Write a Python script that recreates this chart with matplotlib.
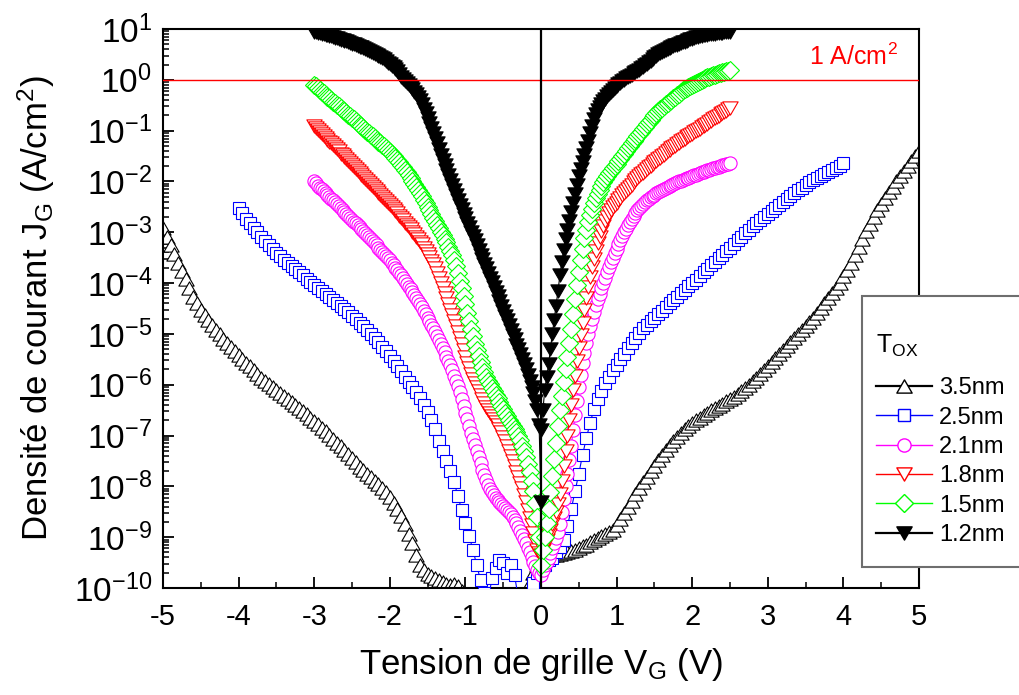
import numpy as np
import matplotlib
matplotlib.use("Agg")
import matplotlib.pyplot as plt
from matplotlib.lines import Line2D
from matplotlib.patches import Rectangle
from matplotlib.path import Path
from matplotlib.ticker import FixedLocator, FixedFormatter, LogLocator, NullFormatter, MultipleLocator

plt.rcParams['font.family'] = ['Liberation Sans', 'DejaVu Sans']
plt.rcParams['mathtext.fontset'] = 'custom'
plt.rcParams['mathtext.rm'] = 'Liberation Sans'
plt.rcParams['mathtext.it'] = 'Liberation Sans:italic'
plt.rcParams['mathtext.bf'] = 'Liberation Sans:bold'
plt.rcParams['mathtext.sf'] = 'Liberation Sans'

# ---------------- data (log10 of J_G in A/cm^2) ----------------
labels = ['3.5nm', '2.5nm', '2.1nm', '1.8nm', '1.5nm', '1.2nm']

# 3.5 nm : V = -5.00 .. -0.05 (step 0.05) then 0.00 .. 5.00
logJ_35_neg = [
    -2.92, -3.09, -3.26, -3.43, -3.60, -3.76, -3.92, -4.10, -4.27, -4.40,
    -4.52, -4.63, -4.73, -4.83, -4.92, -5.01, -5.10, -5.18, -5.26, -5.34,
    -5.42, -5.49, -5.57, -5.64, -5.71, -5.79, -5.86, -5.92, -5.98, -6.04,
    -6.10, -6.16, -6.22, -6.28, -6.34, -6.40, -6.46, -6.52, -6.58, -6.65,
    -6.71, -6.78, -6.85, -6.92, -6.99, -7.06, -7.14, -7.21, -7.29, -7.37,
    -7.45, -7.53, -7.61, -7.68, -7.75, -7.82, -7.89, -7.96, -8.04, -8.12,
    -8.21, -8.32, -8.44, -8.58, -8.75, -8.93, -9.12, -9.35, -9.55, -9.65,
    -9.72, -9.76, -9.80, -9.85, -9.88, -9.92, -9.95, -9.93, -9.97, -10.05,
    -10.5, -10.5, -10.5, -10.5, -10.5, -10.5, -10.5, -10.5, -10.5, -10.5,
    -10.5, -10.5, -10.5, -10.5, -10.5, -10.5, -10.5, -9.90, -9.70, -9.55]
logJ_35_pos = [
    -9.45, -9.40, -9.38, -9.36, -9.35, -9.33, -9.32, -9.30, -9.28, -9.25,
    -9.22, -9.18, -9.15, -9.10, -9.06, -9.02, -8.98, -8.94, -8.90, -8.86,
    -8.76, -8.64, -8.52, -8.40, -8.28, -8.16, -8.04, -7.92, -7.81, -7.70,
    -7.59, -7.48, -7.38, -7.28, -7.18, -7.10, -7.02, -6.95, -6.88, -6.82,
    -6.76, -6.70, -6.65, -6.60, -6.55, -6.50, -6.46, -6.41, -6.37, -6.33,
    -6.29, -6.24, -6.19, -6.13, -6.06, -6.00, -5.93, -5.86, -5.79, -5.71,
    -5.63, -5.55, -5.47, -5.40, -5.32, -5.24, -5.16, -5.08, -5.00, -4.92,
    -4.84, -4.76, -4.68, -4.59, -4.50, -4.40, -4.30, -4.20, -4.10, -3.99,
    -3.87, -3.74, -3.60, -3.45, -3.29, -3.13, -2.98, -2.84, -2.70, -2.57,
    -2.45, -2.33, -2.21, -2.10, -2.00, -1.90, -1.80, -1.70, -1.60, -1.50,
    -1.40]

# 2.5 nm : V = -4.00 .. -0.05 then 0.00 .. 4.00 (step 0.05)
logJ_25_neg = [
    -2.52, -2.63, -2.73, -2.82, -2.91, -3.00, -3.09, -3.17, -3.25, -3.33,
    -3.40, -3.47, -3.54, -3.61, -3.67, -3.73, -3.79, -3.85, -3.91, -3.97,
    -4.03, -4.09, -4.15, -4.21, -4.27, -4.33, -4.39, -4.45, -4.51, -4.57,
    -4.64, -4.71, -4.78, -4.85, -4.92, -5.00, -5.08, -5.16, -5.25, -5.34,
    -5.43, -5.53, -5.63, -5.73, -5.84, -5.94, -6.04, -6.15, -6.27, -6.40,
    -6.54, -6.70, -6.87, -7.10, -7.30, -7.50, -7.70, -7.92, -8.18, -8.47,
    -8.72, -8.98, -9.25, -9.55, -9.85, -10.10, -10.30, -9.80, -9.60, -9.45,
    -9.50, -9.70, -9.55, -9.75, -10.20, -10.30, -10.20, -10.30, -9.90, -9.70]
logJ_25_pos = [
    -9.65, -9.55, -9.45, -9.40, -9.30, -9.20, -9.05, -8.78, -8.45, -8.10,
    -7.75, -7.38, -7.05, -6.75, -6.48, -6.28, -6.12, -5.97, -5.84, -5.72,
    -5.61, -5.50, -5.39, -5.28, -5.18, -5.08, -4.98, -4.89, -4.82, -4.75,
    -4.68, -4.61, -4.54, -4.47, -4.40, -4.33, -4.27, -4.20, -4.13, -4.06,
    -4.00, -3.93, -3.86, -3.79, -3.72, -3.65, -3.58, -3.51, -3.44, -3.37,
    -3.30, -3.23, -3.16, -3.09, -3.02, -2.95, -2.88, -2.82, -2.76, -2.70,
    -2.64, -2.58, -2.52, -2.46, -2.40, -2.34, -2.28, -2.22, -2.17, -2.12,
    -2.07, -2.02, -1.98, -1.94, -1.90, -1.86, -1.82, -1.78, -1.74, -1.70,
    -1.64]

# 2.1 nm : V = -3.00 .. 2.50 (step 0.025)
logJ_21 = [
    -2.00, -2.04, -2.08, -2.12, -2.15, -2.19, -2.22, -2.26, -2.30, -2.34,
    -2.37, -2.41, -2.45, -2.49, -2.52, -2.56, -2.60, -2.64, -2.67, -2.71,
    -2.75, -2.79, -2.82, -2.86, -2.90, -2.94, -2.97, -3.01, -3.05, -3.09,
    -3.13, -3.17, -3.22, -3.26, -3.30, -3.34, -3.39, -3.43, -3.47, -3.51,
    -3.55, -3.60, -3.65, -3.70, -3.75, -3.80, -3.85, -3.90, -3.96, -4.01,
    -4.07, -4.12, -4.18, -4.24, -4.30, -4.36, -4.42, -4.48, -4.55, -4.61,
    -4.68, -4.75, -4.82, -4.89, -4.97, -5.04, -5.12, -5.20, -5.28, -5.36,
    -5.45, -5.53, -5.62, -5.72, -5.82, -5.92, -6.03, -6.15, -6.28, -6.41,
    -6.55, -6.68, -6.82, -6.95, -7.07, -7.18, -7.30, -7.42, -7.55, -7.67,
    -7.78, -7.88, -7.98, -8.05, -8.12, -8.17, -8.22, -8.26, -8.30, -8.34,
    -8.38, -8.42, -8.46, -8.50, -8.55, -8.60, -8.66, -8.73, -8.80, -8.88,
    -8.96, -9.04, -9.12, -9.21, -9.30, -9.39, -9.48, -9.57, -9.65, -9.70,
    -9.75, -9.65, -9.55, -9.48, -9.40, -9.31, -9.22, -9.12, -9.02, -8.90,
    -8.75, -8.50, -8.25, -8.00, -7.75, -7.48, -7.20, -6.90, -6.60, -6.32,
    -6.05, -5.80, -5.58, -5.37, -5.18, -5.01, -4.85, -4.71, -4.57, -4.44,
    -4.32, -4.21, -4.10, -4.00, -3.89, -3.79, -3.69, -3.59, -3.50, -3.41,
    -3.32, -3.23, -3.15, -3.07, -3.00, -2.93, -2.86, -2.79, -2.73, -2.67,
    -2.62, -2.57, -2.52, -2.48, -2.44, -2.40, -2.37, -2.34, -2.31, -2.28,
    -2.26, -2.23, -2.21, -2.19, -2.17, -2.15, -2.13, -2.11, -2.09, -2.07,
    -2.05, -2.03, -2.02, -2.00, -1.99, -1.97, -1.96, -1.94, -1.93, -1.91,
    -1.90, -1.88, -1.87, -1.85, -1.84, -1.82, -1.81, -1.79, -1.78, -1.77,
    -1.76, -1.74, -1.73, -1.72, -1.71, -1.69, -1.68, -1.67, -1.66, -1.65,
    -1.64]

# 1.8 nm : V = -3.00 .. 2.50 (step 0.025)
logJ_18 = [
    -0.90, -0.94, -0.98, -1.02, -1.06, -1.10, -1.14, -1.18, -1.22, -1.25,
    -1.29, -1.33, -1.37, -1.41, -1.45, -1.48, -1.52, -1.56, -1.60, -1.64,
    -1.68, -1.72, -1.76, -1.79, -1.83, -1.87, -1.91, -1.95, -1.99, -2.03,
    -2.07, -2.10, -2.14, -2.18, -2.22, -2.26, -2.30, -2.34, -2.38, -2.42,
    -2.46, -2.50, -2.54, -2.58, -2.63, -2.67, -2.72, -2.76, -2.81, -2.85,
    -2.90, -2.94, -2.99, -3.04, -3.09, -3.14, -3.19, -3.24, -3.30, -3.36,
    -3.42, -3.49, -3.56, -3.63, -3.71, -3.80, -3.89, -3.99, -4.09, -4.19,
    -4.30, -4.41, -4.52, -4.63, -4.74, -4.85, -4.97, -5.08, -5.20, -5.32,
    -5.45, -5.57, -5.68, -5.78, -5.88, -5.96, -6.04, -6.12, -6.20, -6.28,
    -6.36, -6.43, -6.50, -6.56, -6.62, -6.68, -6.74, -6.80, -6.87, -6.94,
    -7.02, -7.11, -7.20, -7.30, -7.40, -7.50, -7.60, -7.71, -7.82, -7.93,
    -8.04, -8.17, -8.30, -8.46, -8.62, -8.77, -8.92, -9.08, -9.25, -9.32,
    -9.35, -9.25, -9.15, -9.05, -8.95, -8.85, -8.75, -8.63, -8.50, -8.34,
    -8.15, -7.90, -7.60, -7.30, -7.00, -6.70, -6.40, -6.10, -5.82, -5.54,
    -5.28, -5.02, -4.78, -4.53, -4.30, -4.08, -3.88, -3.69, -3.52, -3.36,
    -3.22, -3.09, -2.97, -2.87, -2.78, -2.70, -2.62, -2.56, -2.51, -2.46,
    -2.42, -2.37, -2.32, -2.27, -2.23, -2.18, -2.14, -2.10, -2.06, -2.02,
    -1.98, -1.94, -1.90, -1.86, -1.83, -1.79, -1.76, -1.72, -1.69, -1.65,
    -1.62, -1.59, -1.56, -1.53, -1.50, -1.47, -1.44, -1.41, -1.38, -1.35,
    -1.32, -1.30, -1.27, -1.24, -1.21, -1.18, -1.16, -1.13, -1.11, -1.08,
    -1.06, -1.03, -1.01, -0.98, -0.96, -0.93, -0.91, -0.88, -0.86, -0.83,
    -0.81, -0.78, -0.76, -0.73, -0.71, -0.68, -0.66, -0.63, -0.61, -0.58,
    -0.56]

# 1.5 nm : V = -3.00 .. 2.50 (step 0.025)
logJ_15 = [
    -0.10, -0.13, -0.17, -0.20, -0.23, -0.26, -0.30, -0.33, -0.36, -0.39,
    -0.43, -0.46, -0.49, -0.52, -0.56, -0.59, -0.62, -0.65, -0.69, -0.72,
    -0.75, -0.78, -0.82, -0.85, -0.88, -0.91, -0.95, -0.98, -1.02, -1.05,
    -1.08, -1.11, -1.15, -1.18, -1.22, -1.25, -1.28, -1.31, -1.35, -1.38,
    -1.42, -1.46, -1.50, -1.54, -1.58, -1.62, -1.67, -1.72, -1.77, -1.82,
    -1.88, -1.93, -1.99, -2.05, -2.11, -2.17, -2.23, -2.29, -2.36, -2.43,
    -2.50, -2.57, -2.64, -2.71, -2.78, -2.85, -2.92, -2.99, -3.06, -3.13,
    -3.20, -3.28, -3.36, -3.45, -3.55, -3.67, -3.80, -3.95, -4.10, -4.26,
    -4.42, -4.59, -4.75, -4.90, -5.05, -5.19, -5.32, -5.44, -5.55, -5.65,
    -5.75, -5.84, -5.92, -5.99, -6.06, -6.13, -6.20, -6.27, -6.34, -6.41,
    -6.48, -6.55, -6.62, -6.69, -6.76, -6.82, -6.88, -6.94, -7.00, -7.09,
    -7.20, -7.30, -7.42, -7.56, -7.72, -7.90, -8.10, -8.33, -8.60, -9.00,
    -9.55, -9.25, -9.00, -8.73, -8.45, -8.12, -7.80, -7.47, -7.15, -6.82,
    -6.50, -6.22, -5.95, -5.70, -5.45, -5.18, -4.90, -4.61, -4.32, -4.04,
    -3.78, -3.54, -3.32, -3.12, -2.95, -2.80, -2.66, -2.54, -2.43, -2.33,
    -2.24, -2.16, -2.08, -2.01, -1.95, -1.89, -1.84, -1.79, -1.74, -1.70,
    -1.65, -1.60, -1.55, -1.50, -1.45, -1.40, -1.35, -1.30, -1.25, -1.21,
    -1.16, -1.11, -1.06, -1.02, -0.97, -0.92, -0.87, -0.83, -0.79, -0.74,
    -0.70, -0.66, -0.62, -0.58, -0.55, -0.51, -0.48, -0.45, -0.42, -0.39,
    -0.36, -0.33, -0.30, -0.27, -0.24, -0.21, -0.19, -0.16, -0.14, -0.12,
    -0.10, -0.08, -0.06, -0.04, -0.02, 0.00, 0.02, 0.03, 0.05, 0.06,
    0.08, 0.09, 0.10, 0.11, 0.13, 0.14, 0.15, 0.16, 0.17, 0.18,
    0.19]

# 1.2 nm : V = -3.00 .. 0.00 then 0.00 .. 2.50 (step 0.025)
logJ_12_neg = [
    0.95, 0.94, 0.93, 0.92, 0.91, 0.90, 0.89, 0.88, 0.87, 0.86,
    0.84, 0.83, 0.82, 0.81, 0.79, 0.78, 0.77, 0.76, 0.74, 0.73,
    0.71, 0.70, 0.68, 0.67, 0.65, 0.64, 0.62, 0.61, 0.59, 0.57,
    0.55, 0.53, 0.51, 0.49, 0.47, 0.45, 0.42, 0.40, 0.37, 0.34,
    0.31, 0.28, 0.25, 0.21, 0.17, 0.11, 0.05, 0.02, -0.02, -0.06,
    -0.10, -0.14, -0.18, -0.23, -0.28, -0.34, -0.40, -0.48, -0.57, -0.66,
    -0.75, -0.85, -0.95, -1.05, -1.15, -1.25, -1.36, -1.47, -1.58, -1.68,
    -1.78, -1.88, -1.97, -2.06, -2.16, -2.26, -2.36, -2.46, -2.55, -2.64,
    -2.72, -2.81, -2.90, -2.99, -3.07, -3.16, -3.25, -3.35, -3.44, -3.53,
    -3.62, -3.71, -3.80, -3.89, -3.98, -4.08, -4.17, -4.26, -4.35, -4.45,
    -4.54, -4.64, -4.73, -4.83, -4.92, -5.02, -5.11, -5.21, -5.30, -5.40,
    -5.50, -5.60, -5.70, -5.81, -5.92, -6.04, -6.17, -6.32, -6.50, -6.80,
    -8.30]
logJ_12_pos = [
    -6.90, -6.50, -6.10, -5.85, -5.60, -5.30, -5.00, -4.72, -4.45, -4.15,
    -3.85, -3.59, -3.35, -3.14, -2.95, -2.77, -2.60, -2.42, -2.25, -2.07,
    -1.90, -1.76, -1.62, -1.48, -1.35, -1.20, -1.05, -0.90, -0.77, -0.68,
    -0.60, -0.53, -0.47, -0.42, -0.37, -0.32, -0.28, -0.24, -0.20, -0.16,
    -0.13, -0.09, -0.06, -0.03, 0.00, 0.03, 0.05, 0.08, 0.10, 0.13,
    0.15, 0.18, 0.20, 0.23, 0.26, 0.29, 0.32, 0.35, 0.38, 0.41,
    0.44, 0.47, 0.50, 0.52, 0.54, 0.56, 0.58, 0.60, 0.62, 0.64,
    0.66, 0.68, 0.69, 0.71, 0.72, 0.74, 0.75, 0.77, 0.78, 0.80,
    0.81, 0.83, 0.84, 0.85, 0.86, 0.87, 0.88, 0.89, 0.89, 0.90,
    0.90, 0.91, 0.91, 0.92, 0.92, 0.93, 0.93, 0.94, 0.94, 0.95,
    0.95]

V_35 = np.concatenate([np.linspace(-5.0, -0.05, len(logJ_35_neg)), np.linspace(0.0, 5.0, len(logJ_35_pos))])
L_35 = np.array(logJ_35_neg + logJ_35_pos)
V_25 = np.concatenate([np.linspace(-4.0, -0.05, len(logJ_25_neg)), np.linspace(0.0, 4.0, len(logJ_25_pos))])
L_25 = np.array(logJ_25_neg + logJ_25_pos)
V_21 = np.linspace(-3.0, 2.5, len(logJ_21)); L_21 = np.array(logJ_21)
V_18 = np.linspace(-3.0, 2.5, len(logJ_18)); L_18 = np.array(logJ_18)
V_15 = np.linspace(-3.0, 2.5, len(logJ_15)); L_15 = np.array(logJ_15)
V_12 = np.concatenate([np.linspace(-3.0, 0.0, len(logJ_12_neg)), np.linspace(0.0, 2.5, len(logJ_12_pos))])
L_12 = np.array(logJ_12_neg + logJ_12_pos)

# ---------------- styling ----------------
_codes = [Path.MOVETO, Path.LINETO, Path.LINETO, Path.CLOSEPOLY]
TRI_UP = Path([(0, 0.433), (-0.5, -0.433), (0.5, -0.433), (0, 0.433)], _codes)
TRI_DN = Path([(0, -0.433), (-0.5, 0.433), (0.5, 0.433), (0, -0.433)], _codes)

styles = [
    # V, L, color, marker, ms, mfc, legend lw
    (V_35, L_35, 'black',   TRI_UP, 11.0, 'white', 1.6),
    (V_25, L_25, '#0000ff', 's',     8.5, 'white', 1.0),
    (V_21, L_21, '#ff00ff', 'o',     9.5, 'white', 1.0),
    (V_18, L_18, '#ff0000', TRI_DN, 11.0, 'white', 1.0),
    (V_15, L_15, '#00ff00', 'D',     9.0, 'white', 1.0),
    (V_12, L_12, 'black',   TRI_DN, 11.0, 'black', 1.6),
]

fig = plt.figure(figsize=(10.2, 6.95), dpi=100)
ax = fig.add_axes([163/1020, 107/695, 756/1020, 559/695])
ax.set_yscale('log')
ax.set_xlim(-5, 5)
ax.set_ylim(1e-10, 1e1)

handles = []
for i, (V, L, c, m, ms, mfc, llw) in enumerate(styles):
    ax.plot(V, 10.0 ** L, color=c, lw=0.8, marker=m, ms=ms, mfc=mfc, mec=c,
            mew=0.8, zorder=2 + i)
    handles.append(Line2D([], [], color=c, lw=llw, marker=m, ms=ms, mfc=mfc,
                          mec=c, mew=1.0))

ax.axhline(1.0, color='red', lw=1.0, zorder=20)
ax.axvline(0.0, color='black', lw=1.6, zorder=21)
ax.text(0.972, 0.9356, '1 A/cm$^{2}$', transform=ax.transAxes, ha='right',
        va='baseline', color='red', fontsize=18, zorder=22)

# ticks
ax.set_xticks(np.arange(-5, 6))
ax.set_xticklabels([str(v) for v in range(-5, 6)])
ax.xaxis.set_minor_locator(MultipleLocator(0.5))
exps = list(range(-10, 2))
ax.yaxis.set_major_locator(FixedLocator([10.0 ** e for e in exps]))
ax.yaxis.set_major_formatter(FixedFormatter([r'$10^{%d}$' % e for e in exps]))
ax.yaxis.set_minor_locator(LogLocator(base=10, subs=np.arange(2, 10), numticks=100))
ax.yaxis.set_minor_formatter(NullFormatter())
ax.tick_params(which='both', direction='in', top=False, right=False)
ax.tick_params(which='major', length=8, width=1.3)
ax.tick_params(which='minor', length=4.5, width=1.1)
ax.tick_params(axis='x', labelsize=21, pad=11)
ax.tick_params(axis='y', labelsize=24, pad=8)
for s in ax.spines.values():
    s.set_linewidth(1.5)

ax.set_xlabel('Tension de grille V$_{\\mathrm{G}}$ (V)', fontsize=25)
ax.set_ylabel('Densité de courant J$_{\\mathrm{G}}$ (A/cm$^{\\mathrm{2}}$)', fontsize=25)
ax.xaxis.set_label_coords(0.5, -0.104)
ax.yaxis.set_label_coords(-0.140, 0.5)

# legend box
fig.add_artist(Rectangle((862/1020, 128/695), 0.2, 271/695, transform=fig.transFigure,
                         facecolor='white', edgecolor='#6e6e6e', lw=1.5, zorder=3))
leg = fig.legend(handles, labels, loc='upper left',
                 bbox_to_anchor=(876/1020, 1 - 333/695), bbox_transform=fig.transFigure,
                 frameon=False, fontsize=17, title='T$_{\\mathrm{OX}}$', title_fontsize=18,
                 alignment='left', borderpad=0, handlelength=2.37, handletextpad=0.3,
                 labelspacing=0.31, borderaxespad=0, numpoints=1)
leg._legend_box.sep = 0.55 * 17 * 100 / 72
leg.set_zorder(4)

fig.savefig('out.png', dpi=100)
